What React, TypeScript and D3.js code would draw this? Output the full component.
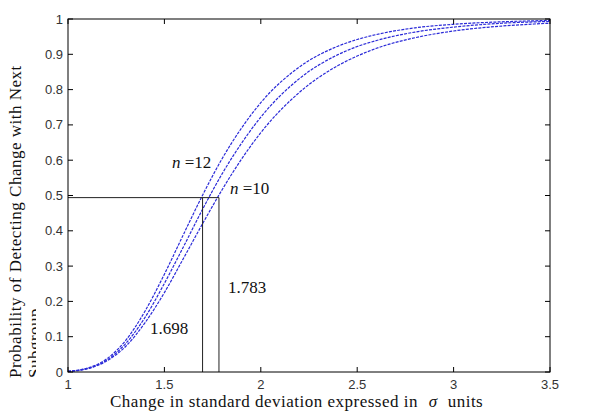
import { useEffect, useRef } from "react";
import * as d3 from "d3";

// shift in sigma (x) and detection probability for subgroup sizes 10, 11, 12
const shifts = [1.0, 1.1, 1.2, 1.3, 1.4, 1.5, 1.6, 1.7, 1.8, 1.9, 2.0, 2.2, 2.4, 2.5, 2.6, 2.8, 3.0, 3.25, 3.5];
const probN10 = [0.002, 0.009, 0.031, 0.073, 0.14, 0.225, 0.323, 0.422, 0.517, 0.603, 0.678, 0.792, 0.868, 0.895, 0.917, 0.947, 0.966, 0.98, 0.988];
const probN11 = [0.002, 0.01, 0.033, 0.081, 0.155, 0.251, 0.356, 0.463, 0.562, 0.648, 0.722, 0.831, 0.899, 0.922, 0.939, 0.963, 0.977, 0.988, 0.993];
const probN12 = [0.002, 0.011, 0.037, 0.09, 0.173, 0.277, 0.391, 0.503, 0.605, 0.691, 0.763, 0.864, 0.923, 0.942, 0.956, 0.975, 0.985, 0.992, 0.996];

const xTicks = [1, 1.5, 2, 2.5, 3, 3.5];
const yTicks = [0, 0.1, 0.2, 0.3, 0.4, 0.5, 0.6, 0.7, 0.8, 0.9, 1];

// reference lines at the 50% detection point
const refProb = 0.494;
const refShiftN12 = 1.698;
const refShiftN10 = 1.783;

const W = 596;
const H = 412;
const serif = "'Liberation Serif', 'Times New Roman', serif";
const sans = "'Liberation Sans', Arial, sans-serif";

export default function App() {
  const svgRef = useRef<SVGSVGElement | null>(null);

  useEffect(() => {
    const svg = d3.select(svgRef.current!);
    svg.selectAll("*").remove();

    const x = d3.scaleLinear().domain([1, 3.5]).range([68, 550]);
    const y = d3.scaleLinear().domain([0, 1]).range([372, 19]);
    const [x0, x1] = x.range();
    const [y0, y1] = y.range();

    svg.append("rect").attr("width", W).attr("height", H).attr("fill", "#fff");

    // curves
    const line = d3
      .line<number>()
      .x((_d, i) => x(shifts[i]))
      .y((d) => y(d))
      .curve(d3.curveMonotoneX);

    [probN10, probN11, probN12].forEach((s) => {
      svg
        .append("path")
        .datum(s)
        .attr("fill", "none")
        .attr("stroke", "#2a2ad8")
        .attr("stroke-width", 1.2)
        .attr("stroke-dasharray", "3 1.2")
        .attr("d", line as any);
    });

    // reference lines
    const ref = svg.append("g").attr("stroke", "#222").attr("stroke-width", 1).attr("fill", "none");
    ref.append("line").attr("x1", x0).attr("x2", x(refShiftN10)).attr("y1", y(refProb)).attr("y2", y(refProb));
    ref.append("line").attr("x1", x(refShiftN12)).attr("x2", x(refShiftN12)).attr("y1", y(refProb)).attr("y2", y0);
    ref.append("line").attr("x1", x(refShiftN10)).attr("x2", x(refShiftN10)).attr("y1", y(refProb)).attr("y2", y0);

    // frame with inward ticks on all sides
    svg
      .append("rect")
      .attr("x", x0)
      .attr("y", y1)
      .attr("width", x1 - x0)
      .attr("height", y0 - y1)
      .attr("fill", "none")
      .attr("stroke", "#000")
      .attr("stroke-width", 1);

    const tk = svg.append("g").attr("stroke", "#000").attr("stroke-width", 1);
    const tl = 5;
    xTicks.forEach((t) => {
      tk.append("line").attr("x1", x(t)).attr("x2", x(t)).attr("y1", y0).attr("y2", y0 - tl);
      tk.append("line").attr("x1", x(t)).attr("x2", x(t)).attr("y1", y1).attr("y2", y1 + tl);
    });
    yTicks.forEach((t) => {
      tk.append("line").attr("x1", x0).attr("x2", x0 + tl).attr("y1", y(t)).attr("y2", y(t));
      tk.append("line").attr("x1", x1).attr("x2", x1 - tl).attr("y1", y(t)).attr("y2", y(t));
    });

    // tick labels
    svg
      .append("g")
      .selectAll("text")
      .data(xTicks)
      .join("text")
      .attr("x", (d) => x(d))
      .attr("y", y0 + 17)
      .attr("text-anchor", "middle")
      .attr("font-family", sans)
      .attr("font-size", 13)
      .attr("fill", "#333")
      .text((d) => d3.format("")(d));

    svg
      .append("g")
      .selectAll("text")
      .data(yTicks)
      .join("text")
      .attr("x", x0 - 5)
      .attr("y", (d) => y(d) + 4.5)
      .attr("text-anchor", "end")
      .attr("font-family", sans)
      .attr("font-size", 13)
      .attr("fill", "#333")
      .text((d) => d3.format("")(d));

    // axis titles
    const xl = svg
      .append("text")
      .attr("x", 110)
      .attr("y", 407)
      .attr("font-family", serif)
      .attr("font-size", 17)
      .attr("letter-spacing", 0.5)
      .attr("fill", "#111");
    xl.append("tspan").text("Change in standard deviation expressed in ");
    xl.append("tspan").attr("dx", 6).attr("font-style", "italic").text("σ");
    xl.append("tspan").attr("dx", 10).text("units");

    svg
      .append("defs")
      .append("clipPath")
      .attr("id", "ylab-clip")
      .append("rect")
      .attr("x", 0)
      .attr("y", 0)
      .attr("width", 36)
      .attr("height", H);

    const yl = svg
      .append("g")
      .attr("clip-path", "url(#ylab-clip)")
      .attr("font-family", serif)
      .attr("font-size", 17)
      .attr("letter-spacing", 0.5)
      .attr("fill", "#111");
    yl.append("text")
      .attr("transform", "translate(21,378) rotate(-90)")
      .text("Probability of Detecting Change with Next");
    yl.append("text").attr("transform", "translate(40,378) rotate(-90)").text("Subgroup");

    // annotations
    const ann = svg.append("g").attr("font-family", serif).attr("font-size", 17).attr("fill", "#111");
    const n12 = ann.append("text").attr("x", 172).attr("y", 168);
    n12.append("tspan").attr("font-style", "italic").text("n");
    n12.append("tspan").text(" =12");
    const n10 = ann.append("text").attr("x", 230).attr("y", 194);
    n10.append("tspan").attr("font-style", "italic").text("n");
    n10.append("tspan").text(" =10");
    ann.append("text").attr("x", 228).attr("y", 293).text(d3.format(".3f")(refShiftN10));
    ann.append("text").attr("x", 150).attr("y", 334).text(d3.format(".3f")(refShiftN12));
  }, []);

  return (
    <div style={{ position: "absolute", left: 0, top: 0 }}>
      <svg ref={svgRef} width={W} height={H} style={{ display: "block" }} />
    </div>
  );
}
